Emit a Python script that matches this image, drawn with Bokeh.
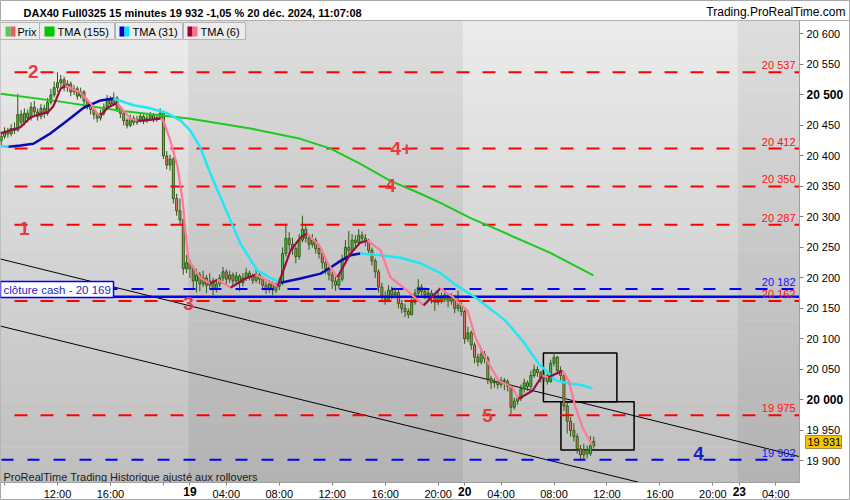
import numpy as np
from bokeh.plotting import figure
from bokeh.models import Range1d, FixedTicker, LinearAxis
from bokeh.core.properties import value
from bokeh.embed import file_html
from bokeh.resources import INLINE

# ---------------- data ----------------
# bar index 0 = 18 Dec 12:00 ; 15-minute bars, trading sessions joined
first_bar = -17
open_ = [
    20425, 20432, 20440, 20436, 20445, 20442, 20468, 20455, 20470, 20462,
    20480, 20472, 20465, 20478, 20470, 20488, 20500, 20512, 20520, 20525,
    20512, 20518, 20505, 20510, 20498, 20505, 20490, 20482, 20476, 20468,
    20462, 20470, 20480, 20492, 20485, 20495, 20478, 20470, 20458, 20450,
    20462, 20455, 20460, 20465, 20458, 20462, 20467, 20460, 20463, 20470,
    20400, 20385, 20395, 20330, 20310, 20295, 20215, 20225, 20215, 20195,
    20205, 20190, 20200, 20188, 20195, 20182, 20190, 20200, 20210, 20198,
    20205, 20195, 20203, 20192, 20200, 20208, 20202, 20196, 20205, 20198,
    20188, 20182, 20190, 20180, 20186, 20192, 20240, 20265, 20255, 20248,
    20235, 20262, 20280, 20265, 20255, 20262, 20248, 20240, 20225, 20215,
    20205, 20195, 20188, 20198, 20230, 20250, 20245, 20262, 20258, 20270,
    20265, 20260, 20245, 20228, 20210, 20185, 20170, 20165, 20180, 20172,
    20176, 20158, 20150, 20145, 20140, 20160, 20175, 20185, 20178, 20172,
    20175, 20168, 20160, 20170, 20165, 20172, 20162, 20168, 20150, 20155,
    20145, 20100, 20110, 20090, 20070, 20062, 20075, 20068, 20035, 20028,
    20030, 20025, 20032, 20030, 20022, 19988, 19998, 20002, 20018, 20028,
    20022, 20040, 20050, 20045, 20035, 20040, 20030, 20060, 20070, 20048,
    20040, 19990, 19965, 19950, 19940, 19920, 19910, 19918, 19912, 19925,
]
high = [
    20440, 20447, 20446, 20452, 20455, 20502, 20475, 20478, 20476, 20488,
    20490, 20478, 20485, 20484, 20495, 20510, 20522, 20537, 20533, 20530,
    20524, 20522, 20516, 20514, 20512, 20508, 20494, 20488, 20480, 20472,
    20476, 20486, 20500, 20498, 20504, 20498, 20482, 20474, 20462, 20468,
    20466, 20466, 20471, 20468, 20468, 20472, 20470, 20469, 20478, 20474,
    20408, 20402, 20398, 20338, 20330, 20298, 20238, 20230, 20220, 20215,
    20210, 20212, 20205, 20208, 20200, 20198, 20206, 20218, 20214, 20212,
    20209, 20210, 20206, 20208, 20216, 20212, 20207, 20214, 20210, 20202,
    20194, 20196, 20194, 20192, 20200, 20250, 20289, 20275, 20266, 20252,
    20272, 20302, 20286, 20270, 20272, 20266, 20256, 20245, 20232, 20222,
    20210, 20202, 20206, 20238, 20262, 20277, 20272, 20270, 20280, 20276,
    20272, 20264, 20250, 20232, 20214, 20192, 20178, 20188, 20186, 20184,
    20180, 20164, 20158, 20150, 20166, 20182, 20198, 20190, 20184, 20182,
    20180, 20172, 20178, 20176, 20180, 20175, 20175, 20172, 20179, 20160,
    20148, 20120, 20114, 20094, 20076, 20083, 20080, 20072, 20040, 20036,
    20034, 20038, 20036, 20034, 20025, 20004, 20008, 20025, 20035, 20032,
    20048, 20058, 20055, 20048, 20046, 20044, 20066, 20078, 20072, 20055,
    20042, 19995, 19972, 19962, 19945, 19926, 19928, 19925, 19941, 19940,
]
low = [
    20418, 20428, 20430, 20432, 20436, 20440, 20450, 20450, 20455, 20458,
    20466, 20458, 20460, 20462, 20466, 20484, 20496, 20505, 20510, 20506,
    20505, 20498, 20500, 20492, 20494, 20484, 20476, 20468, 20460, 20455,
    20458, 20466, 20476, 20480, 20482, 20472, 20462, 20450, 20445, 20447,
    20450, 20451, 20455, 20452, 20454, 20458, 20455, 20456, 20460, 20395,
    20378, 20376, 20322, 20302, 20288, 20205, 20208, 20200, 20180, 20176,
    20178, 20185, 20175, 20182, 20172, 20176, 20185, 20195, 20190, 20192,
    20186, 20188, 20178, 20186, 20195, 20196, 20190, 20192, 20190, 20180,
    20174, 20176, 20172, 20175, 20180, 20188, 20235, 20246, 20238, 20224,
    20230, 20258, 20258, 20246, 20250, 20240, 20232, 20215, 20206, 20196,
    20182, 20179, 20182, 20194, 20225, 20238, 20240, 20250, 20254, 20256,
    20252, 20238, 20220, 20200, 20176, 20160, 20156, 20162, 20165, 20166,
    20150, 20142, 20136, 20134, 20138, 20156, 20170, 20170, 20165, 20164,
    20158, 20146, 20155, 20158, 20160, 20152, 20156, 20142, 20145, 20138,
    20092, 20095, 20082, 20060, 20055, 20058, 20060, 20026, 20018, 20020,
    20018, 20020, 20016, 20014, 19977, 19984, 19992, 19998, 20012, 20015,
    20018, 20036, 20038, 20028, 20030, 20025, 20028, 20055, 20042, 20032,
    19982, 19945, 19940, 19932, 19912, 19900, 19902, 19904, 19908, 19920,
]
close = [
    20432, 20440, 20436, 20445, 20442, 20468, 20455, 20470, 20462, 20480,
    20472, 20465, 20478, 20470, 20488, 20500, 20512, 20520, 20525, 20512,
    20518, 20505, 20510, 20498, 20505, 20490, 20482, 20476, 20468, 20462,
    20470, 20480, 20492, 20485, 20495, 20478, 20470, 20458, 20450, 20462,
    20455, 20460, 20465, 20458, 20462, 20467, 20460, 20463, 20470, 20400,
    20385, 20395, 20330, 20310, 20295, 20215, 20225, 20215, 20195, 20205,
    20190, 20200, 20188, 20195, 20182, 20190, 20200, 20210, 20198, 20205,
    20195, 20203, 20192, 20200, 20208, 20202, 20196, 20205, 20198, 20188,
    20182, 20190, 20180, 20186, 20192, 20240, 20265, 20255, 20248, 20235,
    20262, 20280, 20265, 20255, 20262, 20248, 20240, 20225, 20215, 20205,
    20195, 20188, 20198, 20230, 20250, 20245, 20262, 20258, 20270, 20265,
    20260, 20245, 20228, 20210, 20185, 20170, 20165, 20180, 20172, 20176,
    20158, 20150, 20145, 20140, 20160, 20175, 20185, 20178, 20172, 20175,
    20168, 20160, 20170, 20165, 20172, 20162, 20168, 20150, 20155, 20145,
    20100, 20110, 20090, 20070, 20062, 20075, 20068, 20035, 20028, 20030,
    20025, 20032, 20030, 20022, 19988, 19998, 20002, 20018, 20028, 20022,
    20040, 20050, 20045, 20035, 20040, 20030, 20060, 20070, 20048, 20040,
    19990, 19965, 19950, 19940, 19920, 19910, 19918, 19912, 19925, 19932,
]

# moving averages (bar index, price)
tma155_x = [-17.2, 0.9, 19.0, 40.2, 58.3, 73.4, 82.5, 91.5, 100.6, 109.7, 115.7, 124.8, 133.8, 148.9, 161.9]
tma155_y = [20502, 20489, 20474, 20461, 20445, 20428, 20412, 20387, 20359, 20338, 20323, 20298, 20277, 20241, 20204]

tma31_x = [-17.2, -14.8, -11.2, -7.3, -2.1, 3.0, 7.9, 13.0, 16.9, 23.0, 28.1, 33.2, 37.2, 40.2, 43.2, 46.2,
           51.4, 55.3, 60.4, 64.4, 67.4, 73.4, 79.5, 82.5, 85.5, 88.5, 91.5, 97.6, 103.6, 109.7, 115.7,
           120.2, 126.3, 135.3, 140.5, 145.3, 150.5, 154.4, 158.6, 161.6]
tma31_y = [20416, 20415, 20417, 20420, 20437, 20458, 20479, 20491, 20494, 20483, 20478, 20470, 20458, 20441, 20413, 20371,
           20305, 20256, 20212, 20200, 20192, 20199, 20207, 20217, 20228, 20237, 20240, 20237, 20233, 20224, 20208,
           20189, 20168, 20130, 20097, 20060, 20032, 20027, 20024, 20019]

tma6_x = [-17.2, -11.2, -8.2, -5.1, -3.0, -1.2, 0.9, 2.4, 6.9, 10.0, 12.1, 13.0, 15.1, 18.1, 19.9, 22.1, 24.2,
          26.0, 29.0, 31.1, 32.0, 34.1, 36.3, 37.8, 38.7, 39.6, 41.1, 43.2, 46.2, 48.3, 52.3, 56.8, 59.8,
          63.4, 66.5, 70.4, 73.4, 75.5, 79.5, 81.6, 84.6, 88.5, 91.5, 93.7, 97.6, 100.6, 105.7, 110.6,
          115.7, 119.6, 123.9, 126.3, 129.3, 133.2, 137.5, 139.3, 143.5, 146.5, 148.3, 152.6, 154.4,
          156.5, 158.6, 161.6]
tma6_y = [20437, 20447, 20463, 20469, 20471, 20482, 20510, 20515, 20504, 20486, 20469, 20466, 20479, 20487, 20474, 20461, 20458,
          20458, 20460, 20461, 20458, 20425, 20381, 20327, 20273, 20228, 20217, 20200, 20191, 20197, 20184, 20199, 20205,
          20196, 20186, 20245, 20266, 20273, 20250, 20224, 20201, 20240, 20258, 20261, 20245, 20201, 20179, 20155,
          20183, 20168, 20146, 20102, 20069, 20032, 20020, 20002, 20015, 20040, 20037, 20048, 20032,
          19988, 19955, 19925]

red_levels = [20537, 20412, 20350, 20287, 20162, 19975]
red_level_text = ["20 537", "20 412", "20 350", "20 287", "20 162", "19 975"]
blue_levels = [20182, 19902]
blue_level_text = ["20 182", "19 902"]
cash_close = 20169
cash_text = "clôture cash -  20 169"

zone_text = ["2", "1", "3", "4+", "4", "5"]
zone_x = [-7.3, -10.0, 39.6, 103.9, 100.6, 129.9]
zone_y = [20538, 20281, 20158, 20412, 20351, 19975]
blue_zone_text = ["4"]
blue_zone_x = [193.7]
blue_zone_y = [19912]

upper_trend_x = [-17.2, 224.2]
upper_trend_y = [20231, 19907]
lower_trend_x = [-17.2, 175.6]
lower_trend_y = [20121, 19865]

box_left = [146.8, 152.1]
box_right = [169.0, 174.2]
box_top = [20077, 19997]
box_bottom = [19997, 19918]

day_starts = [39.6, 122.6, 205.6]

tick_pos = [-16, 0, 16, 32, 40, 51, 67, 83, 99, 115, 123, 134, 150, 166, 182, 198, 206, 217]
tick_text = ["", "12:00", "16:00", "", "19", "04:00", "08:00", "12:00", "16:00", "20:00",
             "20", "04:00", "08:00", "12:00", "16:00", "20:00", "23", "04:00"]
bold_ticks = ["19", "20", "23"]

y_ticks = [19900, 19950, 20000, 20050, 20100, 20150, 20200, 20250, 20300, 20350, 20400, 20450, 20500, 20550, 20600]
y_tick_text = ["19 900", "19 950", "20 000", "20 050", "20 100", "20 150", "20 200", "20 250", "20 300",
               "20 350", "20 400", "20 450", "20 500", "20 550", "20 600"]
y_bold = [20000, 20500]

last_price = 19931
last_price_text = "19 931"
title_text = "DAX40 Full0325 15 minutes 19 932 -1,05 % 20 déc. 2024, 11:07:08"
site_text = "Trading.ProRealTime.com"
footer_text = "ProRealTime Trading  Historique ajusté aux rollovers"
legend_names = ["Prix", "TMA (155)", "TMA (31)", "TMA (6)"]

# ---------------- layout helpers (canvas pixels -> data) ----------------
PX_BAR = 3.31
PX_I0 = 57.0
PPU = 0.61
TOP_PRICE = 20622.0
TOP_PX = 20.0
PLOT_R = 799
PLOT_B = 482
W, H = 850, 500
FONT = "Liberation Sans"


def px2x(px):
    return (px - PX_I0) / PX_BAR


def py2y(py):
    return TOP_PRICE - (py - TOP_PX) / PPU


p = figure(width=W, height=H, output_backend="svg", toolbar_location=None,
           x_range=Range1d(px2x(0), px2x(W)), y_range=Range1d(py2y(H), py2y(0)),
           x_axis_location=None, y_axis_location=None,
           min_border_left=0, min_border_right=0, min_border_top=0, min_border_bottom=0)
p.xgrid.visible = False
p.ygrid.visible = False
p.border_fill_color = "white"
p.background_fill_color = "white"
p.outline_line_color = "#a8a8a8"

# ---- background day bands with vertical gradient ----
edges = [px2x(0)] + day_starts + [px2x(PLOT_R)]
n = 40
ys = np.linspace(py2y(PLOT_B), py2y(TOP_PX), n + 1)
light = (np.array([190, 190, 190]), np.array([236, 236, 236]))
dark = (np.array([178, 178, 178]), np.array([222, 222, 222]))
L, R, B, T, C = [], [], [], [], []
for b in range(len(edges) - 1):
    bot_c, top_c = light if b % 2 == 0 else dark
    for k in range(n):
        f = (k + 0.5) / n
        col = bot_c + (top_c - bot_c) * f
        L.append(edges[b]); R.append(edges[b + 1]); B.append(ys[k]); T.append(ys[k + 1])
        C.append("#%02x%02x%02x" % tuple(int(round(v)) for v in col))
p.quad(left=L, right=R, bottom=B, top=T, fill_color=C, line_color=C, line_width=0.6)

# ---- trend channel and boxes ----
p.line(upper_trend_x, upper_trend_y, color="black", line_width=1)
p.line(lower_trend_x, lower_trend_y, color="black", line_width=1)
p.quad(left=box_left, right=box_right, bottom=box_bottom, top=box_top,
       fill_alpha=0, line_color="black", line_width=1.5)

# ---- candles ----
idx = list(range(first_bar, first_bar + len(close)))
up = [c >= o for o, c in zip(open_, close)]
body_col = ["#4ccb4c" if u else "#f07a6e" for u in up]
body_top = [max(o, c) for o, c in zip(open_, close)]
body_bot = [min(o, c) for o, c in zip(open_, close)]
p.segment(x0=idx, y0=high, x1=idx, y1=low, line_color="#2d5b13", line_width=1)
p.vbar(x=idx, top=body_top, bottom=body_bot, width=0.6, fill_color=body_col,
       line_color="#2d5b13", line_width=1)

# ---- horizontal levels ----
xs_end = px2x(PLOT_R)
p.segment(x0=[px2x(14)] * len(red_levels), y0=red_levels, x1=[xs_end] * len(red_levels), y1=red_levels,
          line_color="#ff0000", line_width=2, line_dash="13 13")
p.segment(x0=[px2x(1)] * len(blue_levels), y0=blue_levels, x1=[xs_end] * len(blue_levels), y1=blue_levels,
          line_color="#0000ff", line_width=2, line_dash="12 14")
p.segment(x0=[px2x(0)], y0=[cash_close], x1=[xs_end], y1=[cash_close], line_color="#0000ff", line_width=2.5)

# ---- moving averages ----
p.line(tma155_x, tma155_y, color="#1ec81e", line_width=2)


def direction_runs(xs, ys_, up_c, down_c):
    ox, oy, oc = [], [], []
    cx, cy, cc = [xs[0]], [ys_[0]], None
    for k in range(1, len(xs)):
        c = up_c if ys_[k] >= ys_[k - 1] else down_c
        if cc is None or c == cc:
            cx.append(xs[k]); cy.append(ys_[k]); cc = c
        else:
            ox.append(cx); oy.append(cy); oc.append(cc)
            cx, cy, cc = [xs[k - 1], xs[k]], [ys_[k - 1], ys_[k]], c
    ox.append(cx); oy.append(cy); oc.append(cc)
    return ox, oy, oc


mx, my, mc = direction_runs(tma31_x, tma31_y, "#0a0ab4", "#1ee8f5")
p.multi_line(xs=mx, ys=my, line_color=mc, line_width=2.5, line_join="round")
mx, my, mc = direction_runs(tma6_x, tma6_y, "#9b0c40", "#ff7898")
p.multi_line(xs=mx, ys=my, line_color=mc, line_width=2.2, line_join="round")

# ---- texts in the plot area ----
p.text(x=[px2x(795)] * len(red_levels), y=red_levels, text=red_level_text, text_align="right",
       text_baseline="bottom", y_offset=-1, text_font_size="11px", text_color="#ff1010",
       text_font=value(FONT))
p.text(x=[px2x(795)] * len(blue_levels), y=blue_levels, text=blue_level_text, text_align="right",
       text_baseline="bottom", y_offset=-1, text_font_size="11px", text_color="#1010ff",
       text_font=value(FONT))
p.text(x=zone_x, y=zone_y, text=zone_text, text_align="center", text_baseline="middle",
       text_font_size="19px", text_font_style="bold", text_color="#e63b3f", text_font=value(FONT))
p.text(x=blue_zone_x, y=blue_zone_y, text=blue_zone_text, text_align="center", text_baseline="middle",
       text_font_size="19px", text_font_style="bold", text_color="#1c1ccc", text_font=value(FONT))
p.text(x=[px2x(3)], y=[py2y(476)], text=[footer_text], text_align="left",
       text_baseline="middle", text_font_size="11px", text_color="#1a1a1a", text_font=value(FONT))

# clôture cash tag
p.quad(left=[px2x(0)], right=[px2x(113)], bottom=[py2y(297)], top=[py2y(281)],
       fill_color="white", line_color="#0000ff", line_width=1.5)
p.text(x=[px2x(3)], y=[py2y(289)], text=[cash_text], text_align="left", text_baseline="middle",
       text_font_size="11.5px", text_color="#1f1fc0", text_font=value(FONT))

# ---- legend strip ----
lb_l = [px2x(0), px2x(39), px2x(115), px2x(183)]
lb_r = [px2x(39), px2x(114), px2x(182), px2x(245)]
p.quad(left=lb_l, right=lb_r, bottom=[py2y(39)] * 4, top=[py2y(22)] * 4,
       fill_color="#ececec", line_color="#b4b4b4", line_width=1)
sw_l = [px2x(5), px2x(10), px2x(44), px2x(119), px2x(124), px2x(187), px2x(192)]
sw_r = [px2x(10), px2x(15), px2x(54), px2x(124), px2x(129), px2x(192), px2x(197)]
sw_c = ["#55cc55", "#e06262", "#00c800", "#0000c8", "#00e8ff", "#990033", "#ff6f90"]
p.quad(left=sw_l, right=sw_r, bottom=[py2y(36)] * 7, top=[py2y(26)] * 7,
       fill_color=sw_c, line_color=None)
p.text(x=[px2x(17), px2x(57), px2x(132), px2x(200)], y=[py2y(31)] * 4, text=legend_names,
       text_align="left", text_baseline="middle", text_font_size="11px", text_color="black",
       text_font=value(FONT))

# ---- header ----
p.segment(x0=[px2x(0)], y0=[py2y(TOP_PX)], x1=[px2x(W)], y1=[py2y(TOP_PX)], line_color="#b0b0b0", line_width=1)
p.text(x=[px2x(23)], y=[py2y(12)], text=[title_text], text_align="left", text_baseline="middle",
       text_font_size="11px", text_font_style="bold", text_color="black", text_font=value(FONT))
p.text(x=[px2x(845)], y=[py2y(11)], text=[site_text], text_align="right", text_baseline="middle",
       text_font_size="12px", text_color="black", text_font=value(FONT))

# ---- plot border lines ----
p.segment(x0=[px2x(PLOT_R), px2x(0)], y0=[py2y(TOP_PX), py2y(PLOT_B)],
          x1=[px2x(PLOT_R), px2x(PLOT_R)], y1=[py2y(PLOT_B), py2y(PLOT_B)],
          line_color="#a0a0a0", line_width=1)

# ---- axes (fixed inside the full-canvas frame) ----
xax = LinearAxis(fixed_location=py2y(PLOT_B))
xax.ticker = FixedTicker(ticks=tick_pos)
xax.major_label_overrides = {t: ("" if s in bold_ticks else s) for t, s in zip(tick_pos, tick_text)}
xax.major_label_text_font_size = "11px"
xax.major_label_text_font = FONT
xax.major_label_text_color = "black"
xax.major_tick_out = 3
xax.major_tick_in = 0
xax.minor_tick_out = 0
xax.minor_tick_in = 0
xax.major_label_standoff = 2
xax.axis_line_color = None
xax.major_tick_line_color = "#808080"
p.add_layout(xax, "below")

yax = LinearAxis(fixed_location=px2x(PLOT_R))
yax.ticker = FixedTicker(ticks=y_ticks)
yax.major_label_overrides = {t: ("" if t in y_bold else s) for t, s in zip(y_ticks, y_tick_text)}
yax.major_label_text_font_size = "11px"
yax.major_label_text_font = FONT
yax.major_label_text_color = "black"
yax.major_tick_out = 4
yax.major_tick_in = 0
yax.minor_tick_out = 0
yax.minor_tick_in = 0
yax.major_label_standoff = 3
yax.axis_line_color = None
yax.major_tick_line_color = "#808080"
p.add_layout(yax, "right")

# bold axis labels
bold_y_pos = [t for t in y_ticks if t in y_bold]
bold_y_txt = [s for t, s in zip(y_ticks, y_tick_text) if t in y_bold]
p.text(x=[px2x(806)] * len(bold_y_pos), y=bold_y_pos, text=bold_y_txt,
       text_align="left", text_baseline="middle", text_font_size="12px", text_font_style="bold",
       text_color="black", text_font=value(FONT))
bt = [t for t, s in zip(tick_pos, tick_text) if s in bold_ticks]
btx = [s for s in tick_text if s in bold_ticks]
p.text(x=bt, y=[py2y(486)] * len(bt), text=btx,
       text_align="center", text_baseline="top", text_font_size="12px", text_font_style="bold",
       text_color="black", text_font=value(FONT))

# last price tag
p.quad(left=[px2x(805)], right=[px2x(841)], bottom=[py2y(448)], top=[py2y(435)],
       fill_color="#f5c400", line_color="#a09040", line_width=1)
p.text(x=[px2x(807)], y=[last_price], text=[last_price_text], text_align="left", text_baseline="middle",
       text_font_size="11px", text_color="black", text_font=value(FONT))

open("out.html", "w").write(file_html(p, INLINE))
